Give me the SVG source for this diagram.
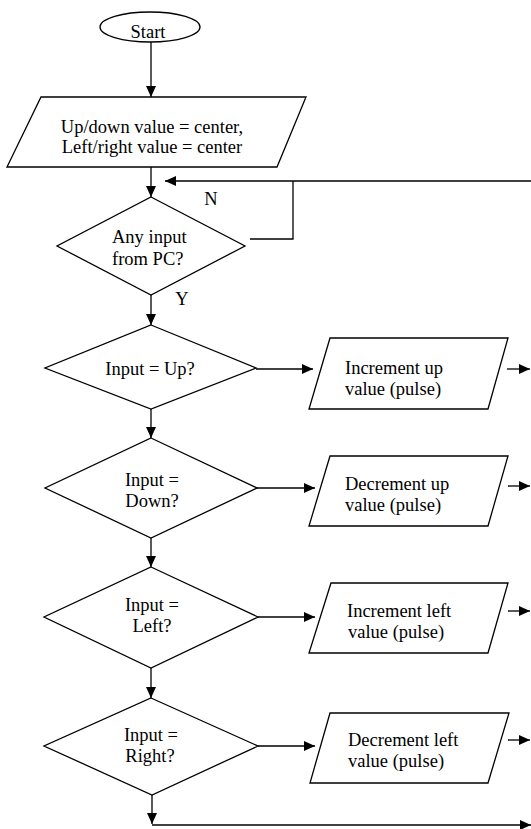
<svg xmlns="http://www.w3.org/2000/svg" width="531" height="829" viewBox="0 0 531 829">
<style>
.s{fill:#fff;stroke:#000;stroke-width:1.3}
.c{fill:none;stroke:#000;stroke-width:1.3}
.a{marker-end:url(#ah)}
text{font-family:"Liberation Serif","Times New Roman",serif;font-size:18.5px;fill:#000}
.m{text-anchor:middle}
</style>
<defs>
<marker id="ah" viewBox="0 0 11 10" refX="11" refY="5" markerWidth="11" markerHeight="10" markerUnits="userSpaceOnUse" orient="auto">
<path d="M0,0 L11,5 L0,10 z" fill="#000"/>
</marker>
</defs>
<rect width="531" height="829" fill="#fff"/>
<g id="connectors">
<path class="c a" d="M151,42 V97"/>
<path class="c a" d="M151,167 V197"/>
<path class="c a" d="M531,181 H165"/>
<path class="c" d="M250,239 H293 V181"/>
<path class="c a" d="M151,295 V325"/>
<path class="c a" d="M151,409 V438"/>
<path class="c a" d="M151,538 V567"/>
<path class="c a" d="M151,668 V698"/>
<path class="c a" d="M152,795 V824"/>
<path class="c a" d="M152,825 H531"/>
<path class="c a" d="M256,369 H313"/>
<path class="c a" d="M257,488 H315"/>
<path class="c a" d="M258,617 H315"/>
<path class="c a" d="M258,746 H315"/>
<path class="c a" d="M507,369 H530"/>
<path class="c a" d="M508,486 H530"/>
<path class="c a" d="M508,611 H530"/>
<path class="c a" d="M508,740 H530"/>
<text x="211" y="205" class="m">N</text>
<text x="182" y="305" class="m">Y</text>
</g>
<g id="start">
<ellipse class="s" cx="150" cy="27" rx="50" ry="15"/>
<text x="148" y="38" class="m">Start</text>
</g>
<g id="init">
<path class="s" d="M41,97 H306 L277,167 H7 Z"/>
<text x="152" y="133" class="m">Up/down value = center,</text>
<text x="152" y="153" class="m">Left/right value = center</text>
</g>
<g id="anyinput">
<path class="s" d="M151,197 L245,246 L151,295 L57,246 Z"/>
<text x="112" y="243">Any input</text>
<text x="112" y="265">from PC?</text>
</g>
<g id="isup">
<path class="s" d="M151,325 L256,368 L151,409 L45,368 Z"/>
<text x="150" y="375" class="m">Input = Up?</text>
</g>
<g id="incup">
<path class="s" d="M330,338 H508 L488,409 H309 Z"/>
<text x="345" y="374">Increment up</text>
<text x="345" y="395">value (pulse)</text>
</g>
<g id="isdown">
<path class="s" d="M151,438 L257,488 L151,538 L45,488 Z"/>
<text x="152" y="486" class="m">Input =</text>
<text x="152" y="507" class="m">Down?</text>
</g>
<g id="decup">
<path class="s" d="M330,456 H508 L488,526 H309 Z"/>
<text x="345" y="490">Decrement up</text>
<text x="345" y="511">value (pulse)</text>
</g>
<g id="isleft">
<path class="s" d="M151,567 L258,617 L151,668 L44,617 Z"/>
<text x="152" y="611" class="m">Input =</text>
<text x="152" y="632" class="m">Left?</text>
</g>
<g id="incleft">
<path class="s" d="M331,583 H508 L488,653 H309 Z"/>
<text x="347" y="617">Increment left</text>
<text x="348" y="638">value (pulse)</text>
</g>
<g id="isright">
<path class="s" d="M151,698 L258,746 L152,795 L44,746 Z"/>
<text x="151" y="741" class="m">Input =</text>
<text x="150" y="762" class="m">Right?</text>
</g>
<g id="decleft">
<path class="s" d="M330,713 H509 L488,783 H310 Z"/>
<text x="348" y="746">Decrement left</text>
<text x="348" y="767">value (pulse)</text>
</g>
</svg>
